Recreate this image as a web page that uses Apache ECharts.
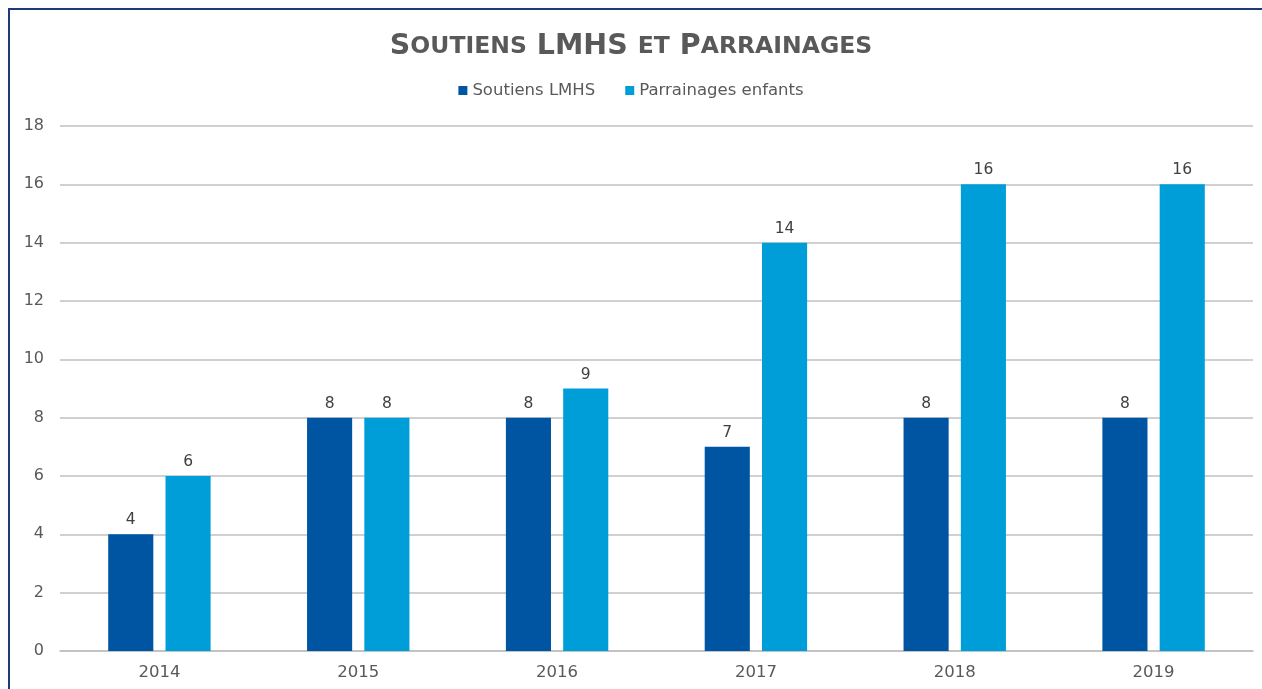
<!DOCTYPE html>
<html>
<head>
<meta charset="utf-8">
<script src="https://cdn.jsdelivr.net/npm/echarts@6/dist/echarts.min.js"></script>
<style>
  html, body { margin: 0; padding: 0; background: #fff; overflow: hidden; }
  #chart { width: 1262px; height: 689px; }
  #frame {
    position: absolute; left: 8px; top: 8px; width: 1254px; height: 681px;
    border-left: 2px solid #1f3a78; border-top: 2px solid #1f3a78;
    pointer-events: none; box-sizing: border-box;
  }
</style>
</head>
<body>
<div id="chart"></div>
<div id="frame"></div>
<script>
var years = ['2014', '2015', '2016', '2017', '2018', '2019'];
var soutiens = [4, 8, 8, 7, 8, 8];
var parrainages = [6, 8, 9, 14, 16, 16];
var seriesNames = ['Soutiens LMHS', 'Parrainages enfants'];

var chart = echarts.init(document.getElementById('chart'));

var labelStyle = {
    show: true,
    position: 'top',
    distance: 6,
    color: '#404040',
    fontSize: 15.5,
    fontFamily: 'DejaVu Sans'
};

var option = {
    animation: false,
    title: {
        text: '{a|S}{b|OUTIENS}  {a|LMHS}  {b|ET}  {a|P}{b|ARRAINAGES}',
        left: 'center',
        top: 27,
        textStyle: {
            rich: {
                a: { fontSize: 28.5, fontWeight: 'bold', color: '#595959', fontFamily: 'DejaVu Sans' },
                b: { fontSize: 23.5, fontWeight: 'bold', color: '#595959', fontFamily: 'DejaVu Sans' }
            }
        }
    },
    legend: {
        data: seriesNames,
        top: 77,
        left: 'center',
        icon: 'rect',
        itemWidth: 9,
        itemHeight: 9,
        itemGap: 30,
        textStyle: { color: '#595959', fontSize: 16.5, fontFamily: 'DejaVu Sans' }
    },
    grid: { left: 60, right: 9, top: 126, bottom: 38 },
    xAxis: {
        type: 'category',
        data: years,
        axisTick: { show: false },
        axisLine: { lineStyle: { color: '#bfbfbf', width: 1.5 } },
        axisLabel: { color: '#595959', fontSize: 16.5, fontFamily: 'DejaVu Sans', margin: 13 }
    },
    yAxis: {
        type: 'value',
        min: 0,
        max: 18,
        interval: 2,
        axisLabel: { color: '#595959', fontSize: 16, fontFamily: 'DejaVu Sans', margin: 16 },
        splitLine: { lineStyle: { color: '#c0c0c0', width: 1.5 } }
    },
    series: [{
        name: seriesNames[0],
        type: 'bar',
        data: soutiens,
        barGap: '27%',
        barCategoryGap: '48.5%',
        itemStyle: { color: '#0055a2' },
        label: labelStyle
    }, {
        name: seriesNames[1],
        type: 'bar',
        data: parrainages,
        itemStyle: { color: '#009ed9' },
        label: labelStyle
    }]
};

chart.setOption(option);
</script>
</body>
</html>
